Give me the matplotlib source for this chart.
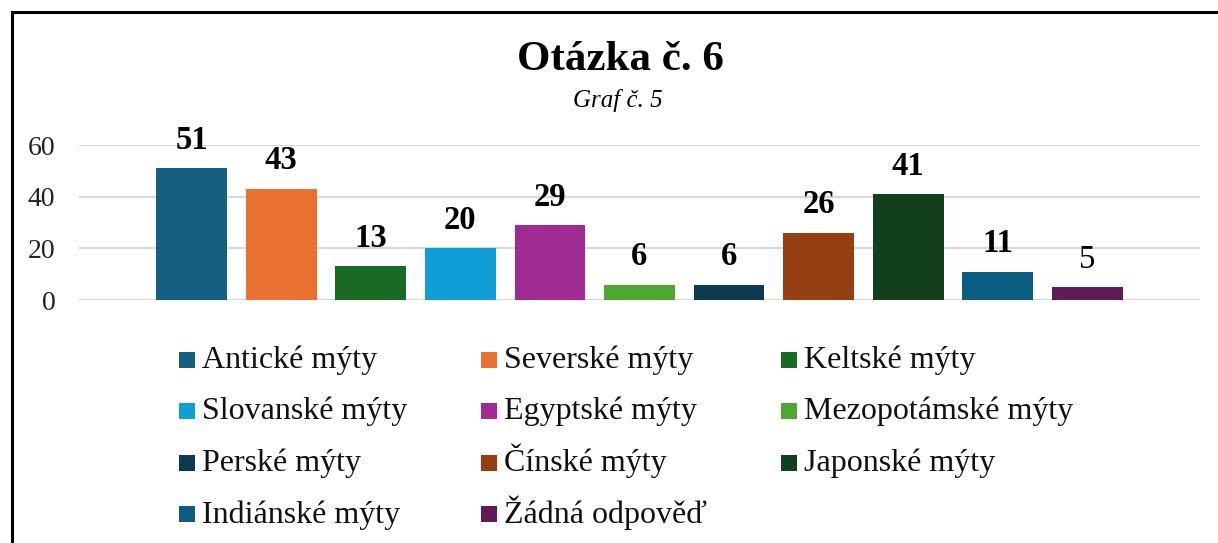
import matplotlib
matplotlib.use("Agg")
import matplotlib.pyplot as plt
from matplotlib.patches import Rectangle
from matplotlib.lines import Line2D

categories = ["Antické mýty", "Severské mýty", "Keltské mýty", "Slovanské mýty",
              "Egyptské mýty", "Mezopotámské mýty", "Perské mýty", "Čínské mýty",
              "Japonské mýty", "Indiánské mýty", "Žádná odpověď"]
values = [51, 43, 13, 20, 29, 6, 6, 26, 41, 11, 5]
colors = ["#156082", "#e97132", "#196b24", "#0f9ed5", "#a02b93", "#4ea72e",
          "#0e3a51", "#963f12", "#11401a", "#0b5e82", "#611b58"]
bold_labels = [True] * 10 + [False]
yticks = [0, 20, 40, 60]
title = "Otázka č. 6"
subtitle = "Graf č. 5"

plt.rcParams["font.family"] = ["Liberation Serif", "DejaVu Serif"]

W, H = 1218, 543
fig = plt.figure(figsize=(W / 100, H / 100), dpi=100)

ax = fig.add_axes([79 / W, 1 - 300 / H, (1200 - 79) / W, (300 - 145) / H])
x = list(range(len(values)))
bars = ax.bar(x, values, width=0.79, color=colors, zorder=3)
ax.set_xlim(-1.257, len(values) - 1 + 1.257)
ax.set_ylim(0, 60)
ax.set_yticks(yticks)
ax.set_yticklabels([str(t) for t in yticks], fontsize=20, color="#222222")
ax.tick_params(axis="y", length=0, pad=17)
ax.set_xticks([])
for s in ax.spines.values():
    s.set_visible(False)
ax.yaxis.grid(True, color="#d9d9d9", linewidth=1.6, zorder=0)
ax.set_axisbelow(True)

for b, v, bl in zip(bars, values, bold_labels):
    ax.annotate(str(v), (b.get_x() + b.get_width() / 2, v),
                xytext=(0, 9), textcoords="offset points",
                ha="center", va="bottom", fontsize=23.5,
                fontweight="bold" if bl else "normal", clip_on=False)

fig.text(620 / W, 1 - 60 / H, title, ha="center", va="center",
         fontsize=31, fontweight="bold")
fig.text(618 / W, 1 - 100 / H, subtitle, ha="center", va="center",
         fontsize=18, style="italic")

# legend laid out as a 3-column grid, row-wise
col_x = [179, 481, 781]
row_y = [359.5, 411, 462.5, 514]
msize = 16
for i, (cat, c) in enumerate(zip(categories, colors)):
    r, k = divmod(i, 3)
    mx, my = col_x[k], row_y[r]
    fig.add_artist(Rectangle((mx / W, 1 - (my + msize / 2) / H), msize / W, msize / H,
                             facecolor=c, edgecolor="none",
                             transform=fig.transFigure))
    fig.text((mx + 23) / W, 1 - (my + 8.5) / H, cat, ha="left", va="baseline",
             fontsize=23, color="#111111")

# chart frame (left and top edges visible)
fig.add_artist(Line2D([11.5 / W, 11.5 / W], [0, 1 - 12 / H], color="black",
                      linewidth=2.2, transform=fig.transFigure))
fig.add_artist(Line2D([11.5 / W, 1], [1 - 12 / H, 1 - 12 / H], color="black",
                      linewidth=2.2, transform=fig.transFigure))

fig.savefig("out.png", dpi=100)
